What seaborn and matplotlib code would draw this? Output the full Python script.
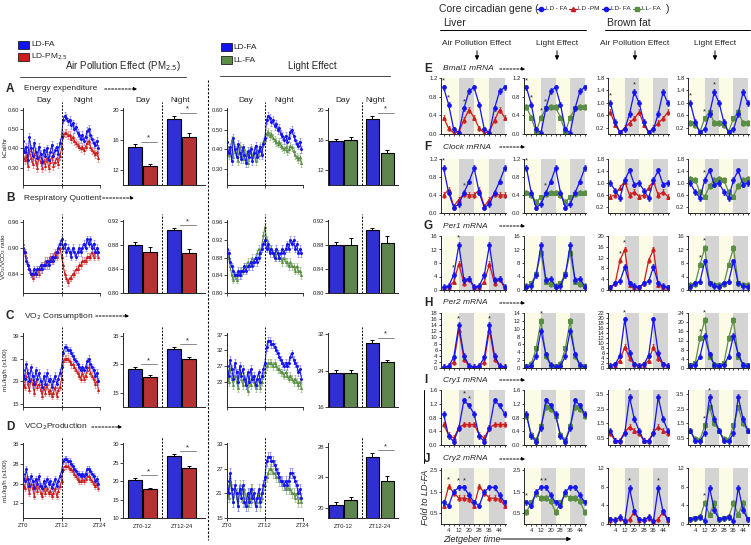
## Metabolic cages + clock genes figure (PM2.5 / light exposure)
import numpy as np
import pandas as pd
import matplotlib
matplotlib.use("Agg")
import matplotlib.pyplot as plt
import matplotlib.patches as mpatches
from matplotlib.lines import Line2D
import seaborn as sns

sns.set_style("ticks")
plt.rcParams["font.family"] = ["Liberation Sans", "DejaVu Sans"]
plt.rcParams["axes.linewidth"] = 0.7
plt.rcParams["xtick.major.width"] = 0.6
plt.rcParams["ytick.major.width"] = 0.6
plt.rcParams["xtick.major.size"] = 2
plt.rcParams["ytick.major.size"] = 2
plt.rcParams["xtick.major.pad"] = 1.5
plt.rcParams["ytick.major.pad"] = 1

BLUE = "#1414EE"
RED = "#CC1C1C"
GREEN = "#5B8E45"
LBLUE = "#7C7CF5"
LRED = "#E47C7C"
LGREEN = "#93BC80"

# ---------------- metabolic time series (ZT0 -> ZT23.5, every 30 min) ----------------
ee_fa = [0.44, 0.38, 0.41, 0.34, 0.46, 0.40, 0.36, 0.43, 0.38, 0.35, 0.41, 0.37,
         0.33, 0.39, 0.36, 0.40, 0.34, 0.38, 0.42, 0.36, 0.39, 0.41, 0.37, 0.43,
         0.46, 0.55, 0.57, 0.56, 0.54, 0.55, 0.52, 0.53, 0.50, 0.51, 0.48, 0.47,
         0.45, 0.47, 0.44, 0.46, 0.49, 0.50, 0.47, 0.45, 0.43, 0.42, 0.44, 0.40]
ee_pm = [0.38, 0.34, 0.36, 0.31, 0.39, 0.35, 0.32, 0.37, 0.33, 0.30, 0.36, 0.33,
         0.30, 0.34, 0.31, 0.35, 0.30, 0.33, 0.36, 0.31, 0.33, 0.35, 0.32, 0.36,
         0.40, 0.47, 0.48, 0.48, 0.47, 0.47, 0.45, 0.46, 0.44, 0.43, 0.42, 0.41,
         0.40, 0.41, 0.39, 0.41, 0.43, 0.44, 0.41, 0.39, 0.38, 0.37, 0.38, 0.35]
ee_ll = [0.42, 0.37, 0.40, 0.45, 0.36, 0.41, 0.38, 0.34, 0.42, 0.39, 0.35, 0.40,
         0.37, 0.33, 0.38, 0.41, 0.36, 0.39, 0.34, 0.40, 0.37, 0.42, 0.38, 0.44,
         0.45, 0.48, 0.49, 0.47, 0.48, 0.46, 0.45, 0.44, 0.43, 0.44, 0.42, 0.41,
         0.40, 0.41, 0.39, 0.40, 0.42, 0.41, 0.39, 0.37, 0.36, 0.35, 0.36, 0.33]

rq_fa = [0.90, 0.89, 0.87, 0.86, 0.85, 0.84, 0.84, 0.85, 0.84, 0.85, 0.85, 0.86,
         0.85, 0.86, 0.86, 0.87, 0.86, 0.87, 0.88, 0.87, 0.88, 0.89, 0.90, 0.91,
         0.92, 0.90, 0.91, 0.89, 0.90, 0.89, 0.88, 0.90, 0.89, 0.88, 0.89, 0.90,
         0.89, 0.90, 0.91, 0.90, 0.92, 0.91, 0.92, 0.90, 0.91, 0.89, 0.90, 0.89]
rq_pm = [0.91, 0.89, 0.88, 0.86, 0.85, 0.84, 0.83, 0.84, 0.84, 0.85, 0.84, 0.85,
         0.86, 0.86, 0.87, 0.86, 0.87, 0.88, 0.87, 0.88, 0.89, 0.88, 0.89, 0.90,
         0.88, 0.86, 0.84, 0.83, 0.82, 0.83, 0.83, 0.84, 0.84, 0.85, 0.85, 0.86,
         0.86, 0.87, 0.87, 0.87, 0.88, 0.88, 0.88, 0.89, 0.88, 0.89, 0.89, 0.88]
rq_ll = [0.89, 0.88, 0.86, 0.84, 0.83, 0.84, 0.83, 0.84, 0.85, 0.84, 0.85, 0.86,
         0.86, 0.87, 0.86, 0.87, 0.88, 0.87, 0.88, 0.89, 0.90, 0.89, 0.91, 0.93,
         0.95, 0.92, 0.91, 0.90, 0.90, 0.89, 0.89, 0.88, 0.89, 0.88, 0.88, 0.87,
         0.88, 0.87, 0.87, 0.86, 0.87, 0.86, 0.86, 0.85, 0.86, 0.85, 0.85, 0.84]

vo2_fa = [27, 24, 29, 26, 23, 28, 25, 22, 27, 24, 26, 23, 21, 25, 22, 26, 23, 24, 21, 23, 25, 22, 24, 26,
          28, 33, 35, 35, 34, 34, 33, 32, 31, 30, 29, 28, 27, 28, 27, 28, 30, 31, 29, 28, 27, 25, 26, 23]
vo2_pm = [23, 21, 25, 22, 20, 24, 22, 19, 23, 21, 22, 20, 18, 21, 19, 22, 19, 20, 18, 19, 21, 18, 20, 21,
          24, 30, 31, 31, 31, 30, 29, 29, 28, 27, 26, 25, 24, 26, 24, 25, 27, 28, 26, 25, 24, 22, 23, 20]
vo2_ll = [25, 22, 26, 23, 21, 24, 22, 20, 25, 23, 21, 24, 22, 19, 23, 21, 24, 22, 20, 21, 23, 20, 22, 24,
          25, 27, 28, 28, 28, 27, 28, 27, 26, 26, 25, 25, 24, 25, 24, 23, 24, 23, 22, 23, 22, 21, 22, 20]

vco2_fa = [24, 21, 26, 22, 19, 23, 21, 18, 22, 20, 23, 19, 18, 21, 19, 22, 20, 21, 18, 20, 22, 19, 21, 23,
           25, 29, 30, 30, 29, 29, 28, 27, 26, 25, 24, 24, 23, 24, 23, 24, 26, 26, 25, 24, 23, 21, 22, 20]
vco2_pm = [20, 18, 22, 19, 16, 20, 18, 15, 19, 17, 19, 16, 15, 18, 16, 18, 16, 17, 15, 16, 18, 15, 17, 19,
           21, 26, 27, 27, 27, 26, 26, 25, 24, 23, 22, 21, 21, 22, 21, 22, 23, 23, 22, 21, 20, 19, 20, 18]
vco2_ll = [23, 20, 24, 21, 19, 22, 20, 18, 23, 21, 19, 22, 20, 18, 21, 19, 22, 20, 18, 19, 21, 18, 20, 22,
           23, 25, 26, 27, 27, 26, 26, 25, 25, 24, 24, 23, 23, 22, 23, 22, 22, 21, 21, 20, 21, 19, 20, 19]

# ---------------- bar summaries: Day blue, Day other, Night blue, Night other ----------------
ee_bar_pm = [15.0, 12.5, 18.8, 16.3]
ee_bar_pm_err = [0.4, 0.3, 0.4, 0.6]
ee_bar_ll = [15.8, 15.9, 18.8, 14.2]
ee_bar_ll_err = [0.3, 0.5, 0.4, 0.4]
rq_bar_pm = [0.880, 0.869, 0.906, 0.867]
rq_bar_pm_err = [0.005, 0.008, 0.003, 0.006]
rq_bar_ll = [0.880, 0.880, 0.906, 0.884]
rq_bar_ll_err = [0.005, 0.012, 0.003, 0.011]
vo2_bar_pm = [23.5, 20.5, 30.5, 27.0]
vo2_bar_pm_err = [0.6, 0.6, 0.7, 0.6]
vo2_bar_ll = [23.5, 23.5, 30.1, 25.9]
vo2_bar_ll_err = [0.6, 0.6, 0.6, 0.4]
vco2_bar_pm = [20.3, 17.8, 26.8, 23.6]
vco2_bar_pm_err = [0.5, 0.4, 0.5, 0.5]
vco2_bar_ll = [20.4, 21.0, 26.7, 23.5]
vco2_bar_ll_err = [0.4, 0.5, 0.5, 0.7]

# ---------------- clock genes, fold to LD-FA at ZT0,4,8,12,16,20 (double plotted) ----------------
genes = ["Bmal1 mRNA", "Clock mRNA", "Per1 mRNA", "Per2 mRNA", "Cry1 mRNA", "Cry2 mRNA"]
# liver
liv_fa = {"Bmal1": [1.0, 0.63, 0.10, 0.03, 0.55, 0.92], "Clock": [1.0, 0.45, 0.12, 0.20, 0.45, 0.70],
          "Per1": [1.0, 1.2, 4.5, 13.3, 3.0, 3.4], "Per2": [0.3, 0.6, 3.5, 14.0, 4.0, 0.8],
          "Cry1": [0.9, 0.25, 0.10, 0.5, 1.3, 1.15], "Cry2": [1.0, 0.85, 1.5, 1.7, 1.7, 1.35]}
liv_fa_l = {"Bmal1": [1.0, 0.63, 0.10, 0.03, 0.55, 0.92], "Clock": [1.0, 0.45, 0.12, 0.20, 0.45, 0.70],
            "Per1": [1.0, 1.2, 4.5, 13.3, 3.0, 3.4], "Per2": [0.3, 0.6, 3.0, 9.5, 3.5, 0.8],
            "Cry1": [0.9, 0.25, 0.10, 0.5, 1.3, 1.15], "Cry2": [1.0, 0.85, 1.5, 1.7, 1.7, 1.35]}
liv_pm = {"Bmal1": [0.35, 0.12, 0.02, 0.05, 0.30, 0.52], "Clock": [0.40, 0.52, 0.15, 0.30, 0.42, 0.40],
          "Per1": [0.5, 0.8, 2.5, 7.7, 2.0, 3.3], "Per2": [0.3, 0.5, 2.0, 12.5, 3.0, 0.5],
          "Cry1": [0.6, 0.3, 0.2, 0.5, 0.6, 0.6], "Cry2": [0.85, 1.75, 1.45, 1.2, 1.2, 1.15]}
liv_ll = {"Bmal1": [0.58, 0.35, 0.05, 0.35, 0.55, 0.58], "Clock": [0.45, 0.40, 0.25, 0.35, 0.42, 0.45],
          "Per1": [1.2, 2.0, 4.8, 11.0, 2.5, 1.8], "Per2": [0.4, 1.0, 5.0, 12.0, 3.0, 0.6],
          "Cry1": [0.85, 0.3, 0.15, 0.55, 1.1, 1.05], "Cry2": [0.55, 1.0, 1.4, 1.2, 1.2, 1.05]}
# brown fat
bat_fa = {"Bmal1": [1.0, 0.38, 0.05, 0.15, 0.65, 1.35], "Clock": [1.0, 0.75, 0.5, 1.1, 1.42, 0.95],
          "Per1": [1.0, 2.5, 3.2, 8.5, 2.5, 1.5], "Per2": [1.0, 1.5, 5.0, 19.5, 6.0, 1.5],
          "Cry1": [1.0, 0.3, 0.25, 0.8, 3.3, 1.8], "Cry2": [1.0, 0.8, 1.5, 0.6, 7.7, 2.7]}
bat_fa_l = {"Bmal1": [1.0, 0.38, 0.05, 0.15, 0.65, 1.35], "Clock": [1.0, 0.70, 0.5, 1.1, 1.42, 0.95],
            "Per1": [1.0, 2.0, 2.5, 8.5, 2.0, 1.2], "Per2": [1.0, 1.5, 5.0, 14.0, 6.0, 1.5],
            "Cry1": [1.0, 0.3, 0.25, 0.8, 3.3, 1.8], "Cry2": [1.0, 1.2, 1.5, 0.6, 7.8, 3.0]}
bat_pm = {"Bmal1": [0.7, 0.30, 0.05, 0.20, 0.35, 0.50], "Clock": [0.55, 0.60, 0.85, 1.05, 0.60, 0.70],
          "Per1": [0.6, 2.5, 11.0, 15.0, 2.0, 1.2], "Per2": [1.0, 1.2, 3.0, 8.5, 4.0, 1.5],
          "Cry1": [0.8, 0.3, 0.3, 0.9, 1.25, 1.0], "Cry2": [0.8, 1.0, 1.3, 0.5, 1.0, 2.6]}
bat_ll = {"Bmal1": [0.35, 0.28, 0.08, 0.50, 0.72, 0.35], "Clock": [1.15, 1.10, 0.70, 0.55, 0.90, 1.10],
          "Per1": [1.5, 1.8, 7.5, 12.5, 2.0, 1.5], "Per2": [1.2, 2.0, 13.0, 21.0, 5.0, 1.5],
          "Cry1": [1.0, 0.4, 0.35, 1.35, 2.6, 1.5], "Cry2": [1.0, 1.2, 1.4, 4.5, 2.0, 4.5]}

gene_ylim = {"Bmal1": [(0, 1.2), (0, 1.2), (0, 1.8), (0, 1.8)],
             "Clock": [(0, 1.2), (0, 1.2), (0, 1.8), (0, 1.8)],
             "Per1": [(0, 16), (0, 16), (0, 20), (0, 16)],
             "Per2": [(0, 18), (0, 14), (0, 22), (0, 24)],
             "Cry1": [(0, 1.6), (0, 1.6), (0, 3.8), (0, 3.8)],
             "Cry2": [(0, 2.6), (0, 2.6), (0, 12), (0, 12)]}
gene_yticks = {"Bmal1": [[0, 0.4, 0.8, 1.2]] * 2 + [[0.2, 0.6, 1.0, 1.4, 1.8]] * 2,
               "Clock": [[0, 0.4, 0.8, 1.2]] * 2 + [[0.2, 0.6, 1.0, 1.4, 1.8]] * 2,
               "Per1": [[0, 4, 8, 12, 16], [0, 4, 8, 12, 16], [0, 4, 8, 12, 16, 20], [0, 4, 8, 12, 16]],
               "Per2": [list(range(0, 19, 2)), list(range(0, 15, 2)), list(range(0, 23, 2)), [0, 4, 8, 12, 16, 20, 24]],
               "Cry1": [[0, 0.4, 0.8, 1.2, 1.6]] * 2 + [[0.5, 1.5, 2.5, 3.5]] * 2,
               "Cry2": [[0.5, 1.5, 2.5]] * 2 + [[0, 4, 8, 12]] * 2}
gene_stars = {"Bmal1": [[0, 4, 16], [0, 4, 12, 16], [0, 20], [0, 12, 20]],
              "Clock": [[0, 16], [0, 16], [], [12]],
              "Per1": [[8, 12], [], [8, 12], [8, 12]],
              "Per2": [[12, 36], [12], [12], [8, 12]],
              "Cry1": [[16, 20], [], [16], [12, 16]],
              "Cry2": [[4, 12, 16], [0, 12, 16], [16, 40], [12]]}

W, H = 751, 545
fig = plt.figure(figsize=(W / 100, H / 100), dpi=100)


def rect(x0, y0, x1, y1):
    return [x0 / W, 1 - y1 / H, (x1 - x0) / W, (y1 - y0) / H]


def ftext(x, y, s, **kw):
    kw.setdefault("fontsize", 6)
    kw.setdefault("va", "center")
    fig.text(x / W, 1 - y / H, s, **kw)


def fline(x0, y0, x1, y1, **kw):
    kw.setdefault("color", "black")
    kw.setdefault("lw", 0.7)
    fig.add_artist(Line2D([x0 / W, x1 / W], [1 - y0 / H, 1 - y1 / H], transform=fig.transFigure, **kw))


def farrow(x0, y0, x1, y1, dashed=True, ms=5):
    fig.add_artist(mpatches.FancyArrowPatch((x0 / W, 1 - y0 / H), (x1 / W, 1 - y1 / H),
                                            transform=fig.transFigure, arrowstyle="-|>",
                                            mutation_scale=ms, lw=0.7, color="black",
                                            linestyle=(0, (2, 1.5)) if dashed else "-"))


def style_ax(ax, fs=4.5):
    sns.despine(ax=ax)
    ax.tick_params(labelsize=fs)
    ax.set_xlabel("")
    ax.set_ylabel("")


zt = np.arange(0, 24, 0.5)


def ts_panel(ax, other, blue, other_c, other_lc, err, ylim, yticks, yfmt, xlabels=False, ylabel=None):
    for vals, c, lc, m in [(other, other_c, other_lc, "^"), (blue, BLUE, LBLUE, "o")]:
        ax.errorbar(zt, vals, yerr=err, fmt="none", ecolor=lc, elinewidth=0.5, capsize=0.7, capthick=0.5)
        df = pd.DataFrame({"zt": zt, "val": vals})
        sns.lineplot(data=df, x="zt", y="val", ax=ax, color=c, lw=0.7, marker=m, ms=1.4, mec=c)
    ax.set_xlim(0, 24)
    ax.set_ylim(*ylim)
    ax.set_yticks(yticks)
    ax.set_yticklabels([yfmt.format(v) for v in yticks])
    ax.set_xticks([0, 12, 24])
    ax.set_xticklabels(["ZT0", "ZT12", "ZT24"] if xlabels else [])
    ax.axvline(12, ymin=0, ymax=1.08, color="black", ls=(0, (2, 1.5)), lw=0.7, clip_on=False)
    style_ax(ax, fs=4.2)
    if ylabel:
        ax.set_ylabel(ylabel, fontsize=4.6)
        ax.yaxis.set_label_coords(-0.2, 0.5)


def bar_panel(ax, vals, errs, other_c, xlim, ylim, yticks, yfmt, sig, xlabels=False):
    df = pd.DataFrame({"period": ["Day", "Day", "Night", "Night"],
                       "grp": ["fa", "x", "fa", "x"], "val": vals})
    sns.barplot(data=df, x="period", y="val", hue="grp", palette=[BLUE, other_c], ax=ax,
                errorbar=None, width=0.8, gap=0.1, edgecolor="black", linewidth=0.8, legend=False)
    pos = sorted([p.get_x() + p.get_width() / 2 for p in ax.patches if p.get_width() > 0])
    ax.errorbar(pos, vals, yerr=[np.zeros(4), errs], fmt="none", ecolor="black",
                elinewidth=0.7, capsize=1.6, capthick=0.7)
    ax.set_xlim(*xlim)
    ax.set_ylim(*ylim)
    ax.set_yticks(yticks)
    ax.set_yticklabels([yfmt.format(v) for v in yticks])
    ax.set_xticks([0, 1])
    ax.set_xticklabels(["ZT0-12", "ZT12-24"] if xlabels else [])
    ax.tick_params(axis="x", length=0, pad=4)
    ax.axvline(0.5, ymin=0, ymax=1.08, color="black", ls=(0, (2, 1.5)), lw=0.7, clip_on=False)
    span = ylim[1] - ylim[0]
    for g in sig:
        top = max(vals[2 * g] + errs[2 * g], vals[2 * g + 1] + errs[2 * g + 1]) + 0.035 * span
        ax.plot([g - 0.05, g + 0.38], [top, top], color="#888888", lw=0.7, clip_on=False)
        ax.text(g + 0.16, top, "*", ha="center", va="bottom", fontsize=5.5)
    style_ax(ax, fs=4.2)


# ---------------- left half: headers ----------------
for y, c, lab in [(45, BLUE, "LD-FA"), (57, RED, "LD-PM$_{2.5}$")]:
    fig.add_artist(mpatches.Rectangle((18 / W, 1 - (y + 4) / H), 11 / W, 8 / H, transform=fig.transFigure,
                                      facecolor=c, edgecolor="black", lw=0.5))
    ftext(31, y, lab, fontsize=6)
for y, c, lab in [(47, BLUE, "LD-FA"), (60, GREEN, "LL-FA")]:
    fig.add_artist(mpatches.Rectangle((221 / W, 1 - (y + 4) / H), 11 / W, 8 / H, transform=fig.transFigure,
                                      facecolor=c, edgecolor="black", lw=0.5))
    ftext(233, y, lab, fontsize=6)
ftext(123, 66, "Air Pollution Effect (PM$_{2.5}$)", fontsize=7, ha="center")
fline(20, 77, 186, 77, color="#444444")
ftext(312, 66, "Light Effect", fontsize=7, ha="center")
fline(220, 76, 390, 76, color="#444444")
fline(208, 80, 208, 540, ls=(0, (2, 1.5)), lw=0.8)

for x, s in [(44, "Day"), (83, "Night"), (143, "Day"), (180, "Night"),
             (246, "Day"), (284, "Night"), (343, "Day"), (375, "Night")]:
    ftext(x, 100, s, fontsize=6, ha="center")

rows = [("A", "Energy expenditure", 89, (108, 185), 102, 140),
        ("B", "Respiratory Quotient", 198, (220, 293), 100, 137),
        ("C", "VO$_2$ Consumption", 316, (333, 407), 93, 132),
        ("D", "VCO$_2$Production", 427, (443, 518), 89, 125)]
for letter, title, y, _, a0, a1 in rows:
    ftext(6, y, letter, fontsize=8.5, fontweight="bold")
    ftext(24, y, title, fontsize=6)
    farrow(a0, y, a1, y)

# row A
r = rows[0][3]
ax = fig.add_axes(rect(23, r[0], 100, r[1]))
ts_panel(ax, ee_pm, ee_fa, RED, LRED, 0.02, (0.21, 0.61), [0.30, 0.40, 0.50, 0.60], "{:.2f}",
         ylabel="kCal/hr")
ax = fig.add_axes(rect(123, r[0], 205, r[1]))
bar_panel(ax, ee_bar_pm, ee_bar_pm_err, RED, (-0.5, 1.6), (10, 20.2), [12, 16, 20], "{:.0f}", [0, 1])
ax = fig.add_axes(rect(227, r[0], 303, r[1]))
ts_panel(ax, ee_ll, ee_fa, GREEN, LGREEN, 0.02, (0.22, 0.61), [0.30, 0.40, 0.50, 0.60], "{:.2f}")
ax = fig.add_axes(rect(328, r[0], 398, r[1]))
bar_panel(ax, ee_bar_ll, ee_bar_ll_err, GREEN, (-0.42, 1.5), (10, 20.2), [12, 16, 20], "{:.0f}", [1])

# row B
r = rows[1][3]
ax = fig.add_axes(rect(23, r[0], 100, r[1]))
ts_panel(ax, rq_pm, rq_fa, RED, LRED, 0.008, (0.795, 0.965), [0.84, 0.90, 0.96], "{:.2f}",
         ylabel="VO$_2$/VCO$_2$ ratio")
ax = fig.add_axes(rect(123, r[0], 205, r[1]))
bar_panel(ax, rq_bar_pm, rq_bar_pm_err, RED, (-0.5, 1.6), (0.80, 0.922), [0.80, 0.84, 0.88, 0.92], "{:.2f}", [1])
ax = fig.add_axes(rect(227, r[0], 303, r[1]))
ts_panel(ax, rq_ll, rq_fa, GREEN, LGREEN, 0.008, (0.80, 0.965), [0.80, 0.84, 0.88, 0.92, 0.96], "{:.2f}")
ax = fig.add_axes(rect(328, r[0], 398, r[1]))
bar_panel(ax, rq_bar_ll, rq_bar_ll_err, GREEN, (-0.42, 1.5), (0.80, 0.922), [0.80, 0.84, 0.88, 0.92], "{:.2f}", [])

# row C
r = rows[2][3]
ax = fig.add_axes(rect(23, r[0], 100, r[1]))
ts_panel(ax, vo2_pm, vo2_fa, RED, LRED, 1.2, (14, 40), [15, 23, 31, 39], "{:.0f}",
         ylabel="mL/kg/h (x100)")
ax = fig.add_axes(rect(123, r[0], 205, r[1]))
bar_panel(ax, vo2_bar_pm, vo2_bar_pm_err, RED, (-0.5, 1.6), (10, 36), [15, 25, 35], "{:.0f}", [0, 1])
ax = fig.add_axes(rect(227, r[0], 303, r[1]))
ts_panel(ax, vo2_ll, vo2_fa, GREEN, LGREEN, 1.2, (14, 37.5), [22, 27, 32, 37], "{:.0f}")
ax = fig.add_axes(rect(328, r[0], 398, r[1]))
bar_panel(ax, vo2_bar_ll, vo2_bar_ll_err, GREEN, (-0.42, 1.5), (16, 32.3), [16, 24, 32], "{:.0f}", [1])

# row D
r = rows[3][3]
ax = fig.add_axes(rect(23, r[0], 100, r[1]))
ts_panel(ax, vco2_pm, vco2_fa, RED, LRED, 1.2, (6, 36.5), [12, 20, 28, 36], "{:.0f}", xlabels=True,
         ylabel="mL/kg/h (x100)")
ax = fig.add_axes(rect(123, r[0], 205, r[1]))
bar_panel(ax, vco2_bar_pm, vco2_bar_pm_err, RED, (-0.5, 1.6), (10, 30.3), [10, 15, 20, 25, 30], "{:.0f}", [0, 1], xlabels=True)
ax = fig.add_axes(rect(227, r[0], 303, r[1]))
ts_panel(ax, vco2_ll, vco2_fa, GREEN, LGREEN, 1.2, (15, 33.3), [15, 21, 27, 33], "{:.0f}", xlabels=True)
ax = fig.add_axes(rect(328, r[0], 398, r[1]))
bar_panel(ax, vco2_bar_ll, vco2_bar_ll_err, GREEN, (-0.42, 1.5), (18.7, 28.5), [20, 24, 28], "{:.0f}", [1], xlabels=True)

# ---------------- right half: clock genes ----------------
ftext(439, 9, "Core circadian gene (", fontsize=7.5)
for x, c, m, lab in [(541, BLUE, "o", "LD - FA"), (573, RED, "^", "LD -PM"),
                     (606, BLUE, "o", "LD- FA"), (637, GREEN, "s", "LL- FA")]:
    fig.add_artist(Line2D([(x - 4) / W, (x + 4) / W], [1 - 9 / H] * 2, transform=fig.transFigure,
                          color=c, lw=0.9))
    fig.add_artist(Line2D([x / W], [1 - 9 / H], transform=fig.transFigure, color=c, marker=m, ms=3))
    ftext(x + 5, 9, lab, fontsize=4.6)
ftext(666, 9, ")", fontsize=7.5)
ftext(443, 23, "Liver", fontsize=7.5)
fline(440, 30, 586, 30)
ftext(607, 23, "Brown fat", fontsize=7.5)
fline(605, 30, 750, 30)
for x, s in [(477, "Air Pollution Effect"), (557, "Light Effect"),
             (635, "Air Pollution Effect"), (715, "Light Effect")]:
    ftext(x, 43, s, fontsize=6, ha="center")
    farrow(x, 48, x, 63, dashed=False, ms=6)

cols = [(441, 506), (524, 586), (608, 669), (688, 749)]
grow = [(78, 134), (159, 213), (236, 290), (313, 368), (390, 445), (468, 524)]
glab = [69, 147, 226, 303, 380, 459]
gzt = np.arange(0, 49, 4)
series = [(liv_fa, liv_pm, RED, "^"), (liv_fa_l, liv_ll, GREEN, "s"),
          (bat_fa, bat_pm, RED, "^"), (bat_fa_l, bat_ll, GREEN, "s")]

for i, gname in enumerate(genes):
    key = gname.split()[0]
    ftext(424, glab[i], "EFGHIJ"[i], fontsize=8.5, fontweight="bold")
    ftext(443, glab[i], gname, fontsize=6, style="italic")
    farrow(497, glab[i], 528, glab[i])
    for j, (fa_d, ot_d, oc, om) in enumerate(series):
        ax = fig.add_axes(rect(cols[j][0], grow[i][0], cols[j][1], grow[i][1]))
        for k, s0 in enumerate([0, 12, 24, 36]):
            ax.axvspan(s0, s0 + 12, color="#FBFBE6" if k % 2 == 0 else "#D4D4D4", lw=0, zorder=0)
        ylo, yhi = gene_ylim[key][j]
        err = 0.05 * (yhi - ylo)
        fa = np.concatenate([fa_d[key], fa_d[key], fa_d[key][:1]])
        ot = np.concatenate([ot_d[key], ot_d[key], ot_d[key][:1]])
        for vals, c, m in [(ot, oc, om), (fa, BLUE, "o")]:
            ax.errorbar(gzt, vals, yerr=err, fmt="none", ecolor=c, elinewidth=0.5, capsize=1, capthick=0.5)
            df = pd.DataFrame({"zt": gzt, "val": vals})
            sns.lineplot(data=df, x="zt", y="val", ax=ax, color=c, lw=0.9, marker=m, ms=2.6, mec=c)
        for sz in gene_stars[key][j]:
            idx = int(sz // 4)
            ax.text(sz, max(fa[idx], ot[idx]) + 0.06 * (yhi - ylo), "*", ha="center", va="bottom", fontsize=5.5)
        ax.set_xlim(-2, 49)
        ax.set_ylim(ylo, yhi)
        ax.set_yticks(gene_yticks[key][j])
        ax.set_yticklabels([("{:.1f}" if yhi < 5 else "{:.0f}").format(v) for v in gene_yticks[key][j]])
        ax.set_xticks(gzt)
        if i == len(genes) - 1:
            ax.set_xticklabels([str(v) if v % 8 == 4 else "" for v in gzt])
        else:
            ax.set_xticklabels([])
        style_ax(ax, fs=4.3)
        ax.tick_params(length=1.5)

ftext(443, 539, "Zietgeber time", fontsize=6.5, style="italic")
farrow(498, 539, 574, 539, dashed=False, ms=6)
ftext(425, 497, "Fold to LD-FA", fontsize=6.5, style="italic", rotation=90, ha="center")
fline(424, 463, 424, 390)

fig.savefig("out.png", dpi=100)
